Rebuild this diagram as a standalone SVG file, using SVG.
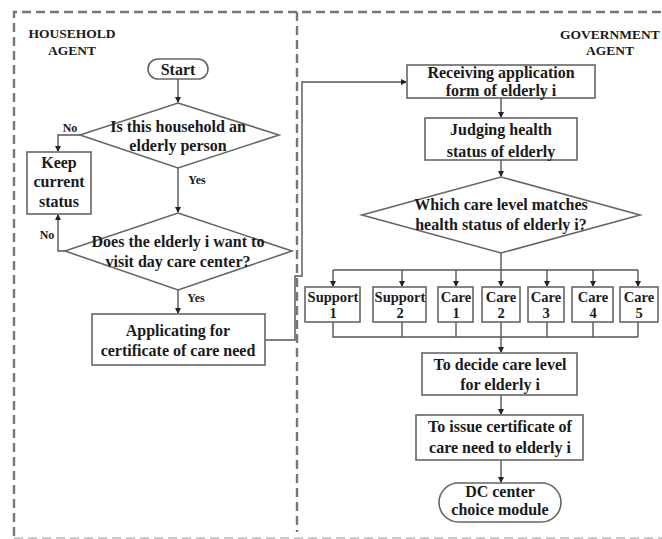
<svg xmlns="http://www.w3.org/2000/svg" width="662" height="539" viewBox="0 0 662 539">
<style>
text{font-family:"Liberation Serif","Times New Roman",serif;font-weight:bold;fill:#1a1a1a;text-anchor:middle}
.t{font-size:16px}
.s{font-size:14.5px}
.l{font-size:12px}
.a{font-size:13.5px}
.n{fill:#fff;stroke:#666;stroke-width:1.6}
.c{fill:none;stroke:#555;stroke-width:1.4}
.d{fill:none;stroke:#777;stroke-width:2.4;stroke-dasharray:9,5}
</style>
<defs>
<marker id="ar" markerWidth="6" markerHeight="6" refX="5" refY="3" orient="auto" markerUnits="userSpaceOnUse">
<path d="M0,0 L6,3 L0,6 z" fill="#222"/>
</marker>
</defs>
<rect width="662" height="539" fill="#fff"/>
<g id="lanes">
<path class="d" d="M14,536 L14,12 L662,12"/>
<path d="M14,538 L662,538" fill="none" stroke="#bbb" stroke-width="1.5" stroke-dasharray="9,5"/>
<path class="d" d="M297,12 L297,532"/>
<text class="a" x="72" y="38">HOUSEHOLD</text>
<text class="a" x="72" y="55">AGENT</text>
<text class="a" x="610" y="39">GOVERNMENT</text>
<text class="a" x="610" y="55">AGENT</text>
</g>
<g id="connectors">
<path class="c" d="M178,79 L178,102" marker-end="url(#ar)"/>
<path class="c" d="M80,135 L58,135 L58,151" marker-end="url(#ar)"/>
<path class="c" d="M178,168 L178,212" marker-end="url(#ar)"/>
<path class="c" d="M65,251 L58,251 L58,215" marker-end="url(#ar)"/>
<path class="c" d="M178,290 L178,313" marker-end="url(#ar)"/>
<path class="c" d="M265,340 L295,340 L295,276 L302,276 L302,82 L406,82" marker-end="url(#ar)"/>
<path class="c" d="M501,98 L501,117" marker-end="url(#ar)"/>
<path class="c" d="M501,160 L501,176" marker-end="url(#ar)"/>
<path class="c" d="M501,253 L501,270"/>
<path class="c" d="M333,270 L638,270"/>
<path class="c" d="M333,270 L333,286" marker-end="url(#ar)"/>
<path class="c" d="M402,270 L402,286" marker-end="url(#ar)"/>
<path class="c" d="M456,270 L456,286" marker-end="url(#ar)"/>
<path class="c" d="M501,270 L501,286" marker-end="url(#ar)"/>
<path class="c" d="M547,270 L547,286" marker-end="url(#ar)"/>
<path class="c" d="M593,270 L593,286" marker-end="url(#ar)"/>
<path class="c" d="M638,270 L638,286" marker-end="url(#ar)"/>
<path class="c" d="M333,322 L333,337 L638,337 M402,322 L402,337 M456,322 L456,337 M501,322 L501,337 M547,322 L547,337 M593,322 L593,337 M638,322 L638,337"/>
<path class="c" d="M501,337 L501,352" marker-end="url(#ar)"/>
<path class="c" d="M501,395 L501,414" marker-end="url(#ar)"/>
<path class="c" d="M501,460 L501,482" marker-end="url(#ar)"/>
<text class="l" x="70" y="132">No</text>
<text class="l" x="197" y="184">Yes</text>
<text class="l" x="47" y="239">No</text>
<text class="l" x="196" y="302">Yes</text>
</g>
<g id="start">
<rect class="n" x="148" y="59" width="60" height="20" rx="10"/>
<text class="t" x="178" y="74.5">Start</text>
</g>
<g id="q1">
<polygon class="n" points="178,103 279,135 178,168 80,135"/>
<text class="t" x="178" y="132">Is this household an</text>
<text class="t" x="178" y="151">elderly person</text>
</g>
<g id="keep">
<rect class="n" x="27" y="152" width="64" height="62"/>
<text class="t" x="59" y="168">Keep</text>
<text class="t" x="59" y="187">current</text>
<text class="t" x="59" y="207">status</text>
</g>
<g id="q2">
<polygon class="n" points="178,213 292,251 178,290 65,251"/>
<text class="t" x="178" y="247">Does the elderly i want to</text>
<text class="t" x="178" y="267">visit day care center?</text>
</g>
<g id="apply">
<rect class="n" x="92" y="314" width="173" height="51"/>
<text class="t" x="178" y="335.5">Applicating for</text>
<text class="t" x="178" y="355.5">certificate of care need</text>
</g>
<g id="receive">
<rect class="n" x="407" y="65" width="188" height="33"/>
<text class="t" x="501" y="78">Receiving application</text>
<text class="t" x="501" y="96">form of elderly i</text>
</g>
<g id="judge">
<rect class="n" x="425" y="118" width="152" height="42"/>
<text class="t" x="501" y="135">Judging health</text>
<text class="t" x="501" y="157">status of elderly</text>
</g>
<g id="q3">
<polygon class="n" points="501,177 640,215 501,253 362,215"/>
<text class="t" x="501" y="210">Which care level matches</text>
<text class="t" x="501" y="230">health status of elderly i?</text>
</g>
<g id="support1">
<rect class="n" x="305" y="287" width="55" height="35"/>
<text class="s" x="333" y="302">Support</text>
<text class="s" x="333" y="318">1</text>
</g>
<g id="support2">
<rect class="n" x="373" y="287" width="53" height="35"/>
<text class="s" x="400" y="302">Support</text>
<text class="s" x="400" y="318">2</text>
</g>
<g id="care1">
<rect class="n" x="438" y="287" width="35" height="35"/>
<text class="s" x="456" y="302">Care</text>
<text class="s" x="456" y="318">1</text>
</g>
<g id="care2">
<rect class="n" x="482" y="287" width="38" height="35"/>
<text class="s" x="501" y="302">Care</text>
<text class="s" x="501" y="318">2</text>
</g>
<g id="care3">
<rect class="n" x="528" y="287" width="36" height="35"/>
<text class="s" x="546" y="302">Care</text>
<text class="s" x="546" y="318">3</text>
</g>
<g id="care4">
<rect class="n" x="572" y="287" width="41" height="35"/>
<text class="s" x="593" y="302">Care</text>
<text class="s" x="593" y="318">4</text>
</g>
<g id="care5">
<rect class="n" x="620" y="287" width="38" height="35"/>
<text class="s" x="639" y="302">Care</text>
<text class="s" x="639" y="318">5</text>
</g>
<g id="decide">
<rect class="n" x="422" y="353" width="155" height="42"/>
<text class="t" x="500" y="370">To decide care level</text>
<text class="t" x="500" y="390">for elderly i</text>
</g>
<g id="issue">
<rect class="n" x="416" y="415" width="167" height="45"/>
<text class="t" x="500" y="432">To issue certificate of</text>
<text class="t" x="500" y="453">care need to elderly i</text>
</g>
<g id="dc">
<rect class="n" x="439" y="483" width="122" height="39" rx="19.5"/>
<text class="t" x="500" y="497">DC center</text>
<text class="t" x="500" y="515">choice module</text>
</g>
</svg>
